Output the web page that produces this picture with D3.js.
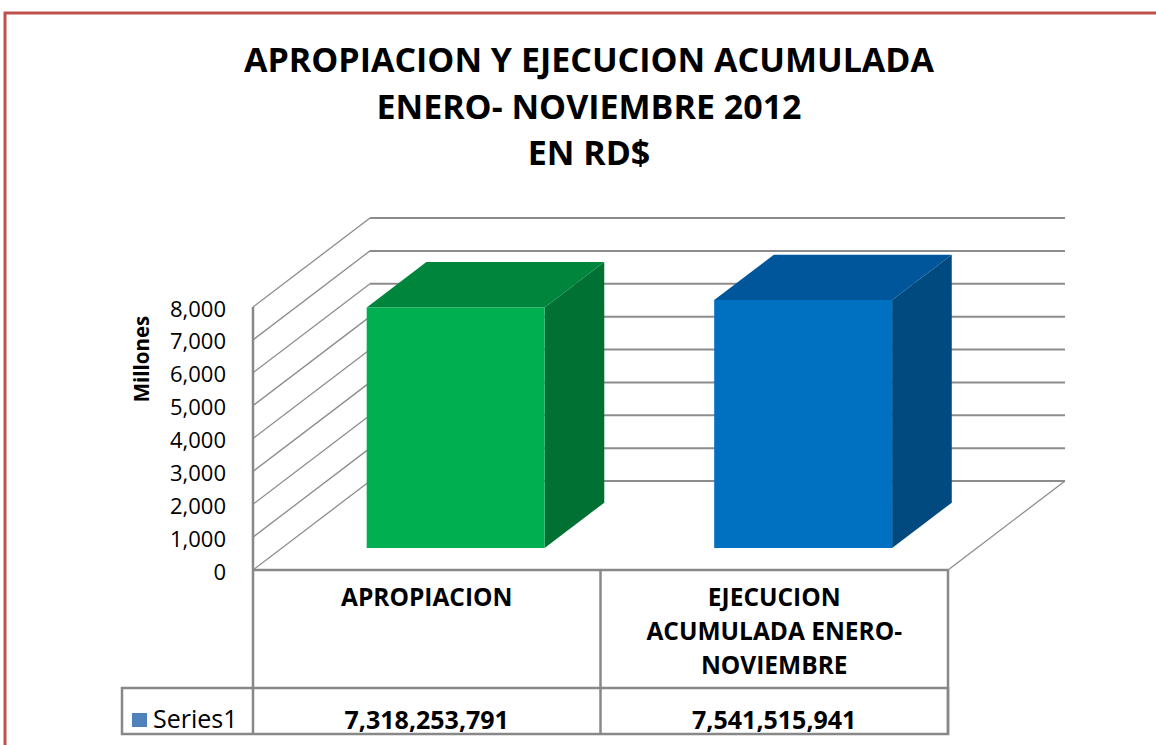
<html>
<head>
<meta charset="utf8">
<title>Apropiacion y ejecucion acumulada</title>
<style>
  body { margin: 0; background: #fff; }
  text { font-family: "Open Sans", sans-serif; fill: #000; }
  .grid line { stroke: #8c8c8c; stroke-width: 2px; }
  .wall line { stroke: #8c8c8c; stroke-width: 1.3px; }
  .tbl line { stroke: #888; stroke-width: 2.5px; }
</style>
</head>
<body>
<svg width="1156" height="745"></svg>
<script src="https://d3js.org/d3.v7.min.js"></script>
<script>
var titleLines = ["APROPIACION Y EJECUCION ACUMULADA", "ENERO- NOVIEMBRE 2012", "EN RD$"];
var categories = ["APROPIACION", "EJECUCION ACUMULADA ENERO-NOVIEMBRE"];
var categoryLines = [["APROPIACION"], ["EJECUCION", "ACUMULADA ENERO-", "NOVIEMBRE"]];
var values = [7318253791, 7541515941];
var seriesName = "Series1";
var yTicks = [0, 1000, 2000, 3000, 4000, 5000, 6000, 7000, 8000];
var yLabel = "Millones";
var faceColors = [
  {front: "#00b050", top: "#00853d", side: "#007033"},
  {front: "#0070c0", top: "#00569a", side: "#004a80"}
];

var svg = d3.select("svg");

// oblique depth vector (front plane -> back wall)
var DX = 117, DY = -89;
function P(x, y, z) { return [x + z * DX, y + z * DY]; }

var x = d3.scaleBand().domain(categories).range([253, 948]);
var y = d3.scaleLinear().domain([0, 8000]).range([570, 307]);
var line = d3.line();

// red frame
svg.append("path")
  .attr("d", "M5,745 V13 H1156")
  .attr("fill", "none")
  .attr("stroke", "#c0504d")
  .attr("stroke-width", 3);

// title
svg.append("g").selectAll("text")
  .data(titleLines)
  .enter().append("text")
  .attr("x", 589)
  .attr("y", function(d, i) { return 72 + i * 46.5; })
  .attr("text-anchor", "middle")
  .attr("font-weight", "bold")
  .attr("font-size", 34)
  .text(function(d) { return d; });

// back wall gridlines
var x0 = x.range()[0], x1 = x.range()[1];
svg.append("g").attr("class", "grid")
  .selectAll("line")
  .data(yTicks)
  .enter().append("line")
  .attr("x1", P(x0, 0, 1)[0])
  .attr("x2", P(x1, 0, 1)[0])
  .attr("y1", function(d) { return P(0, y(d), 1)[1]; })
  .attr("y2", function(d) { return P(0, y(d), 1)[1]; });

// left side wall
var wall = svg.append("g").attr("class", "wall");
wall.selectAll("line.d")
  .data(yTicks)
  .enter().append("line")
  .attr("class", "d")
  .attr("x1", x0)
  .attr("y1", function(d) { return y(d); })
  .attr("x2", P(x0, 0, 1)[0])
  .attr("y2", function(d) { return P(0, y(d), 1)[1]; });
// floor right edge
wall.append("line")
  .attr("x1", x1).attr("y1", y(0))
  .attr("x2", P(x1, y(0), 1)[0]).attr("y2", P(x1, y(0), 1)[1]);

// bars
var z0 = 0.247, z1 = 0.757;
var barW = x.bandwidth() * 0.512;
var bars = svg.append("g").selectAll("g")
  .data(values)
  .enter().append("g");

bars.each(function(v, i) {
  var g = d3.select(this);
  var bx0 = x(categories[i]) + (x.bandwidth() - barW) / 2,
      bx1 = bx0 + barW,
      yt = y(v / 1e6), yb = y(0);
  var c = faceColors[i];
  g.append("path").attr("fill", c.side)
    .attr("d", line([P(bx1, yt, z0), P(bx1, yt, z1), P(bx1, yb, z1), P(bx1, yb, z0)]) + "Z");
  g.append("path").attr("fill", c.top)
    .attr("d", line([P(bx0, yt, z0), P(bx1, yt, z0), P(bx1, yt, z1), P(bx0, yt, z1)]) + "Z");
  g.append("path").attr("fill", c.front)
    .attr("d", line([P(bx0, yt, z0), P(bx1, yt, z0), P(bx1, yb, z0), P(bx0, yb, z0)]) + "Z");
});

// y axis labels
var yAxis = svg.append("g")
  .attr("transform", "translate(226,2)")
  .call(d3.axisLeft(y).tickValues(yTicks).tickFormat(d3.format(",")).tickSize(0).tickPadding(0));
yAxis.select(".domain").remove();
yAxis.selectAll("text")
  .attr("font-family", "Open Sans")
  .attr("font-size", 22)
  .attr("fill", "#111");

svg.append("text")
  .attr("transform", "translate(149,359) rotate(-90)")
  .attr("text-anchor", "middle")
  .attr("font-weight", "bold")
  .attr("font-size", 20.5)
  .text(yLabel);

// data table
var rowTop = 688, rowBot = 734, legendLeft = 122;
var tbl = svg.append("g").attr("class", "tbl");
tbl.append("line").attr("x1", x0).attr("x2", x0).attr("y1", y(8000)).attr("y2", rowTop);
tbl.append("line").attr("x1", x0).attr("x2", x1).attr("y1", y(0)).attr("y2", y(0));
tbl.selectAll("line.col")
  .data(categories)
  .enter().append("line")
  .attr("class", "col")
  .attr("x1", function(d) { return x(d) + x.bandwidth(); })
  .attr("x2", function(d) { return x(d) + x.bandwidth(); })
  .attr("y1", y(0)).attr("y2", rowBot);
tbl.append("rect")
  .attr("x", legendLeft).attr("y", rowTop)
  .attr("width", x1 - legendLeft).attr("height", rowBot - rowTop)
  .attr("fill", "none").attr("stroke", "#888").attr("stroke-width", 2.5);
tbl.append("line").attr("x1", x0).attr("x2", x0).attr("y1", rowTop).attr("y2", rowBot);

// category labels
svg.append("g").selectAll("g")
  .data(categories)
  .enter().append("g")
  .each(function(d, i) {
    d3.select(this).selectAll("text")
      .data(categoryLines[i])
      .enter().append("text")
      .attr("x", x(d) + x.bandwidth() / 2)
      .attr("y", function(t, j) { return 606 + j * 34; })
      .attr("text-anchor", "middle")
      .attr("font-weight", "bold")
      .attr("font-size", 24.5)
      .text(function(t) { return t; });
  });

// legend key + values
svg.append("rect")
  .attr("x", 132).attr("y", 713)
  .attr("width", 15).attr("height", 14)
  .attr("fill", "#4f81bd");
svg.append("text")
  .attr("x", 153).attr("y", 728)
  .attr("font-size", 25)
  .text(seriesName);
svg.append("g").selectAll("text")
  .data(values)
  .enter().append("text")
  .attr("x", function(d, i) { return x(categories[i]) + x.bandwidth() / 2; })
  .attr("y", 729)
  .attr("text-anchor", "middle")
  .attr("font-weight", "bold")
  .attr("font-size", 25)
  .text(function(d) { return d3.format(",")(d); });
</script>
</body>
</html>
